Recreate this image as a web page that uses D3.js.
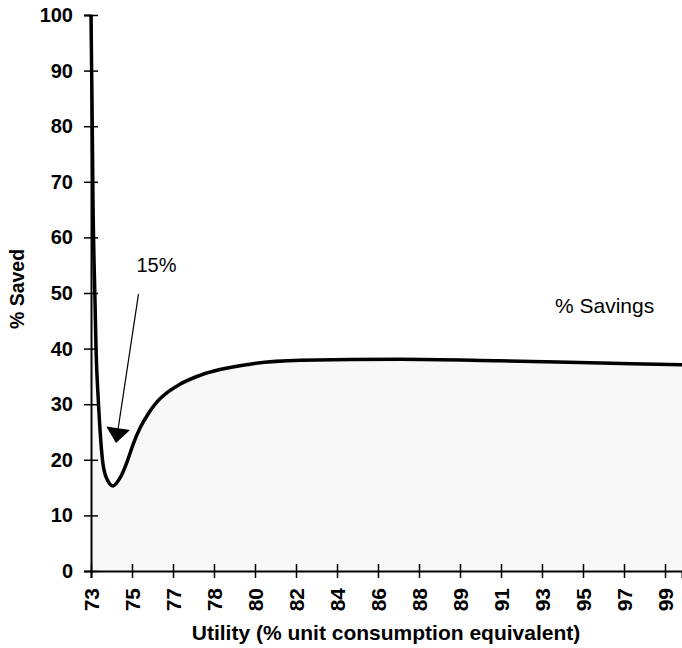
<!DOCTYPE html>
<html>
<head>
<meta charset="utf-8">
<script src="https://cdn.jsdelivr.net/npm/d3@7"></script>
<style>
  body { margin: 0; background: #fff; }
  text { font-family: "Liberation Sans", Arial, sans-serif; }
</style>
</head>
<body>
<div class="canvas"></div>
<script>
// data
const tickLabels = ['73','75','77','78','80','82','84','86','88','89','91','93','95','97','99'];
const yTicks = [0, 10, 20, 30, 40, 50, 60, 70, 80, 90, 100];

// utility (%) and % saved along the savings curve
const utility = [73.0, 73.045, 73.09, 73.18, 73.23, 73.33, 73.44, 73.56, 73.78, 74.0,
                 74.31, 74.63, 74.9, 75.22, 75.58, 75.99, 76.49, 77.03, 77.94,
                 80.2, 82.5, 87.0, 91.5, 96.1, 99.8];
const saved   = [100, 84.7, 66.7, 48.7, 39.7, 30.8, 23.6, 18.8, 16.1, 15.3,
                 16.7, 19.6, 22.7, 25.7, 28.2, 30.4, 32.2, 33.6, 35.2,
                 37.2, 37.9, 38.1, 37.8, 37.4, 37.1];

// annotation arrow: from label down to the dip
const arrowFrom = {u: 75.15, s: 49.8};
const arrowTo = {u: 74.13, s: 23.0};

const data = utility.map((u, i) => ({u: u, s: saved[i]}));

// select the svg container
const svg = d3.select('.canvas')
    .append('svg')
        .attr('width', 682)
        .attr('height', 648);

const margin = {top: 15, right: 0, bottom: 77, left: 91};
const graphWidth = 682 - margin.left - margin.right;
const graphHeight = 648 - margin.top - margin.bottom;

const graph = svg.append('g')
    .attr('transform', `translate(${margin.left}, ${margin.top})`);

// scales
const step = 26 / 14;
const x = d3.scaleLinear()
    .domain([73, 99 + 17 * 26 / 574])
    .range([0, graphWidth]);

const y = d3.scaleLinear()
    .domain([0, 100])
    .range([graphHeight, 0]);

// area under the curve
const area = d3.area()
    .x(d => x(d.u))
    .y0(graphHeight)
    .y1(d => y(d.s))
    .curve(d3.curveMonotoneX);

graph.append('path')
    .datum(data)
    .attr('d', area)
    .attr('fill', '#f8f8f8');

// axes
const xAxis = d3.axisBottom(x)
    .tickValues(d3.range(tickLabels.length).map(i => 73 + i * step))
    .tickFormat((d, i) => tickLabels[i])
    .tickSizeOuter(0)
    .tickSize(7);

const yAxis = d3.axisLeft(y)
    .tickValues(yTicks)
    .tickSizeOuter(0)
    .tickSize(7)
    .tickPadding(11);

const xAxisGroup = graph.append('g')
    .attr('transform', `translate(0, ${graphHeight})`)
    .call(xAxis);

const yAxisGroup = graph.append('g')
    .call(yAxis);

[xAxisGroup, yAxisGroup].forEach(g => {
    g.select('.domain').attr('stroke', '#000').attr('stroke-width', 2);
    g.selectAll('.tick line').attr('stroke', '#000').attr('stroke-width', 1.5);
    g.selectAll('text')
        .attr('fill', '#000')
        .attr('font-size', 20)
        .attr('font-weight', 'bold')
        .attr('font-family', '"Liberation Sans", Arial, sans-serif');
});

// ticks cross the axis line
xAxisGroup.selectAll('.tick line').attr('y1', -7).attr('y2', 7);
yAxisGroup.selectAll('.tick line').attr('x1', -7).attr('x2', 7);

xAxisGroup.selectAll('text')
    .attr('font-size', 21)
    .attr('transform', 'rotate(-90)')
    .attr('text-anchor', 'end')
    .attr('x', -17)
    .attr('y', 0)
    .attr('dy', '0.35em');

// the curve
const line = d3.line()
    .x(d => x(d.u))
    .y(d => y(d.s))
    .curve(d3.curveMonotoneX);

graph.append('path')
    .datum(data)
    .attr('d', line)
    .attr('fill', 'none')
    .attr('stroke', '#000')
    .attr('stroke-width', 3.5)
    .attr('stroke-linejoin', 'round');

// annotation arrow
const x1 = x(arrowFrom.u), y1 = y(arrowFrom.s);
const x2 = x(arrowTo.u), y2 = y(arrowTo.s);
const len = Math.hypot(x2 - x1, y2 - y1);
const ux = (x2 - x1) / len, uy = (y2 - y1) / len;
const bx = x2 - ux * 15, by = y2 - uy * 15;

graph.append('line')
    .attr('x1', x1).attr('y1', y1)
    .attr('x2', bx).attr('y2', by)
    .attr('stroke', '#000')
    .attr('stroke-width', 1.2);

graph.append('path')
    .attr('d', `M${x2},${y2}L${bx - uy * 12},${by + ux * 12}L${bx + uy * 12},${by - ux * 12}Z`)
    .attr('fill', '#000');

// labels
graph.append('text')
    .attr('x', x(arrowFrom.u) - 2)
    .attr('y', y(arrowFrom.s) - 22)
    .attr('font-size', 20)
    .text('15%');

svg.append('text')
    .attr('x', 555)
    .attr('y', 313)
    .attr('font-size', 21)
    .text('% Savings');

svg.append('text')
    .attr('x', 386)
    .attr('y', 640)
    .attr('text-anchor', 'middle')
    .attr('font-size', 21)
    .attr('font-weight', 'bold')
    .text('Utility (% unit consumption equivalent)');

svg.append('text')
    .attr('transform', 'translate(24, 289) rotate(-90)')
    .attr('text-anchor', 'middle')
    .attr('font-size', 19.5)
    .attr('font-weight', 'bold')
    .text('% Saved');
</script>
</body>
</html>
